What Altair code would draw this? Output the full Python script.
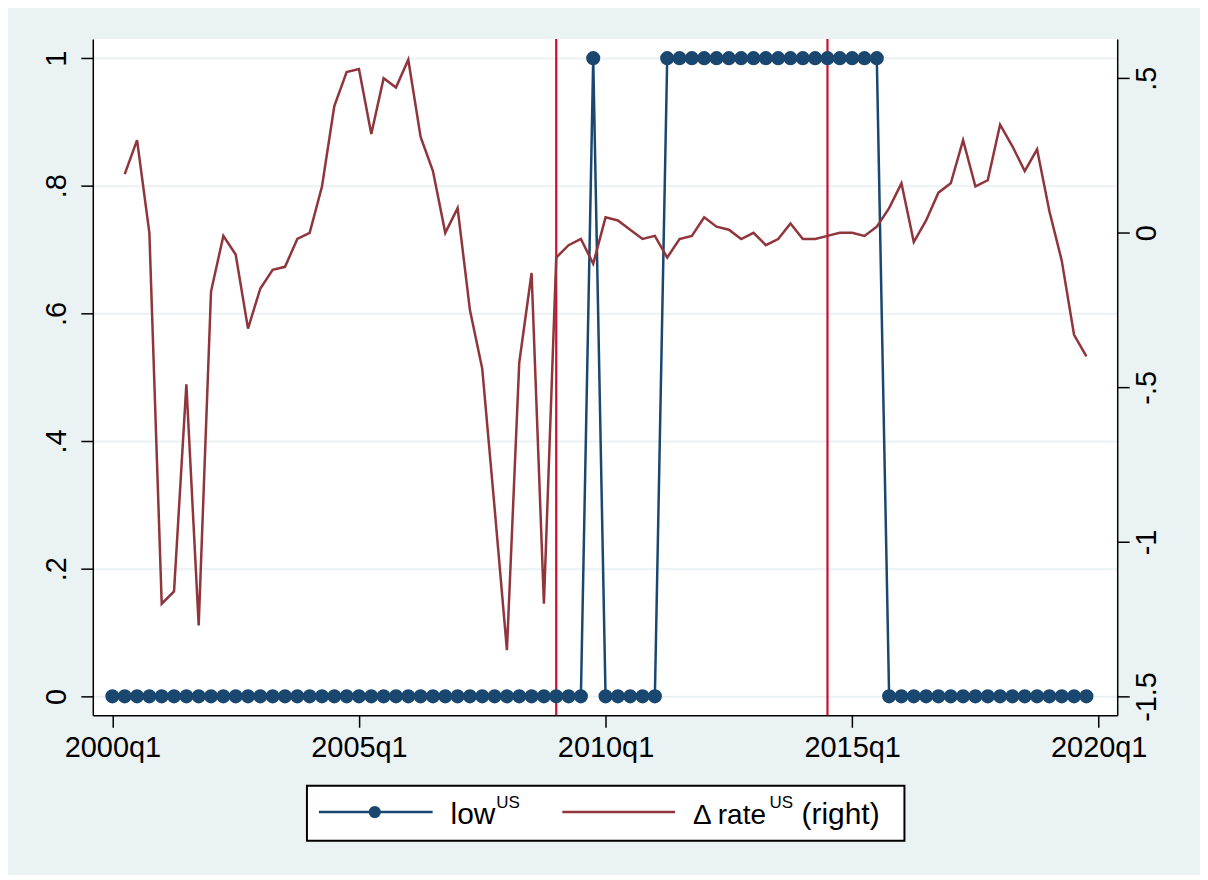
import altair as alt
import pandas as pd

# ---------------- data ----------------
quarters = [f"{y}q{q}" for y in range(2000, 2020) for q in range(1, 5)]

low_us = [0, 0, 0, 0, 0, 0, 0, 0, 0, 0,
          0, 0, 0, 0, 0, 0, 0, 0, 0, 0,
          0, 0, 0, 0, 0, 0, 0, 0, 0, 0,
          0, 0, 0, 0, 0, 0, 0, 0, 0, 1,
          0, 0, 0, 0, 0, 1, 1, 1, 1, 1,
          1, 1, 1, 1, 1, 1, 1, 1, 1, 1,
          1, 1, 1, 0, 0, 0, 0, 0, 0, 0,
          0, 0, 0, 0, 0, 0, 0, 0, 0, 0]

rate_us = [None, 0.19, 0.30, 0.00, -1.20, -1.16, -0.49, -1.27, -0.19, -0.01,
           -0.07, -0.31, -0.18, -0.12, -0.11, -0.02, 0.00, 0.15, 0.41, 0.52,
           0.53, 0.32, 0.50, 0.47, 0.56, 0.31, 0.20, 0.00, 0.08, -0.25,
           -0.44, -0.89, -1.35, -0.42, -0.13, -1.20, -0.08, -0.04, -0.02, -0.10,
           0.05, 0.04, 0.01, -0.02, -0.01, -0.08, -0.02, -0.01, 0.05, 0.02,
           0.01, -0.02, 0.00, -0.04, -0.02, 0.03, -0.02, -0.02, -0.01, 0.00,
           0.00, -0.01, 0.02, 0.08, 0.16, -0.03, 0.04, 0.13, 0.16, 0.30,
           0.15, 0.17, 0.35, 0.28, 0.20, 0.27, 0.07, -0.09, -0.33, -0.40]

event_quarters = ["2009q1", "2014q3"]
x_tick_labels = ["2000q1", "2005q1", "2010q1", "2015q1", "2020q1"]
left_ticks = [0, 0.2, 0.4, 0.6, 0.8, 1]
right_ticks = [-1.5, -1, -0.5, 0, 0.5]
legend_labels = ["low", "US", "\u0394 rate", "US", "(right)"]

# ---------------- styling ----------------
BLUE = "#1A476F"
MAROON = "#90353B"
VRED = "#C8102E"
BG = "#EAF2F3"
FONT = "Liberation Sans"
FS = 29
LFS = 30

W, H = 1027, 678


def qindex(s):
    y, q = s.split("q")
    return (int(y) - 2000) * 4 + int(q) - 1


df = pd.DataFrame({"quarter": quarters, "low": low_us, "rate": rate_us})
df["t"] = df["quarter"].map(qindex)
ev = pd.DataFrame({"quarter": event_quarters})
ev["t"] = ev["quarter"].map(qindex)
x_tick_values = [qindex(s) for s in x_tick_labels]

x_enc = alt.X(
    "t:Q",
    scale=alt.Scale(domain=[-1.59, 81.5], nice=False, zero=False),
    axis=alt.Axis(
        values=x_tick_values,
        labelExpr="toString(2000 + floor(datum.value / 4)) + 'q' + toString(datum.value % 4 + 1)",
        title=None, grid=False, labelPadding=6, labelFlush=False, labelOverlap=False,
    ),
)

rules = alt.Chart(ev).mark_rule(color=VRED, strokeWidth=2.2).encode(x=x_enc)

y_left = alt.Y(
    "low:Q",
    scale=alt.Scale(domain=[-0.0297, 1.030], nice=False, zero=False),
    axis=alt.Axis(
        orient="left", values=left_ticks, title=None, grid=True,
        gridColor=BG, gridWidth=2,
        labelExpr="replace(toString(datum.value), '0.', '.')",
        labelAngle=270, labelAlign="center", labelBaseline="bottom",
        labelPadding=9, labelFlush=False, labelOverlap=False,
    ),
)

blue_line = alt.Chart(df).mark_line(color=BLUE, strokeWidth=2.5).encode(x=x_enc, y=y_left)
blue_pts = alt.Chart(df).mark_circle(color=BLUE, size=200, opacity=1).encode(x=x_enc, y=y_left)

y_right = alt.Y(
    "rate:Q",
    scale=alt.Scale(domain=[-1.561, 0.627], nice=False, zero=False),
    axis=alt.Axis(
        orient="right", values=right_ticks, title=None, grid=False,
        labelExpr="replace(toString(datum.value), '0.', '.')",
        labelAngle=270, labelAlign="center", labelBaseline="top",
        labelPadding=3.5, labelFlush=False, labelOverlap=False,
    ),
)

red_line = alt.Chart(df).mark_line(color=MAROON, strokeWidth=2.5).encode(x=x_enc, y=y_right)

# ---------------- legend (drawn as a guide) ----------------
one = pd.DataFrame({"k": [0]})
leg_box = alt.Chart(one).mark_rect(fill="white", stroke="black", strokeWidth=2).encode(
    x=alt.value(214.7), x2=alt.value(813.7), y=alt.value(748.7), y2=alt.value(803.7))
leg_blue = alt.Chart(one).mark_rule(color=BLUE, strokeWidth=2.5).encode(
    x=alt.value(226.7), x2=alt.value(340.7), y=alt.value(775))
leg_dot = alt.Chart(one).mark_circle(color=BLUE, size=150, opacity=1).encode(
    x=alt.value(282.7), y=alt.value(775))
leg_red = alt.Chart(one).mark_rule(color=MAROON, strokeWidth=2.5).encode(
    x=alt.value(470.7), x2=alt.value(583.7), y=alt.value(775))


def leg_text(txt, x, y, size):
    return alt.Chart(one).mark_text(
        text=txt, align="left", baseline="alphabetic", font=FONT, fontSize=size, color="black"
    ).encode(x=alt.value(x), y=alt.value(y))


legend_layers = [
    leg_box, leg_blue, leg_dot, leg_red,
    leg_text(legend_labels[0], 358.7, 787.0, LFS),
    leg_text(legend_labels[1], 404.5, 771.0, 17),
    leg_text(legend_labels[2], 601.7, 787.0, 28),
    leg_text(legend_labels[3], 678.5, 771.0, 17),
    leg_text(legend_labels[4], 710.5, 787.0, LFS),
]

left = alt.layer(rules, blue_line, blue_pts)

chart = (
    alt.layer(left, red_line, *legend_layers)
    .resolve_scale(y="independent")
    .properties(
        width=W, height=H,
        autosize=alt.AutoSizeParams(type="none"),
        padding={"left": 85, "top": 30, "right": 83, "bottom": 159},
        background=BG,
    )
    .configure_view(fill="white", strokeWidth=0)
    .configure_axis(
        domainColor="black", domainWidth=1.5, tickColor="black", tickWidth=1.5,
        tickSize=12, labelFont=FONT, labelFontSize=FS, labelColor="black",
    )
)

chart.save("out.html", embed_options={"renderer": "svg", "actions": False})
